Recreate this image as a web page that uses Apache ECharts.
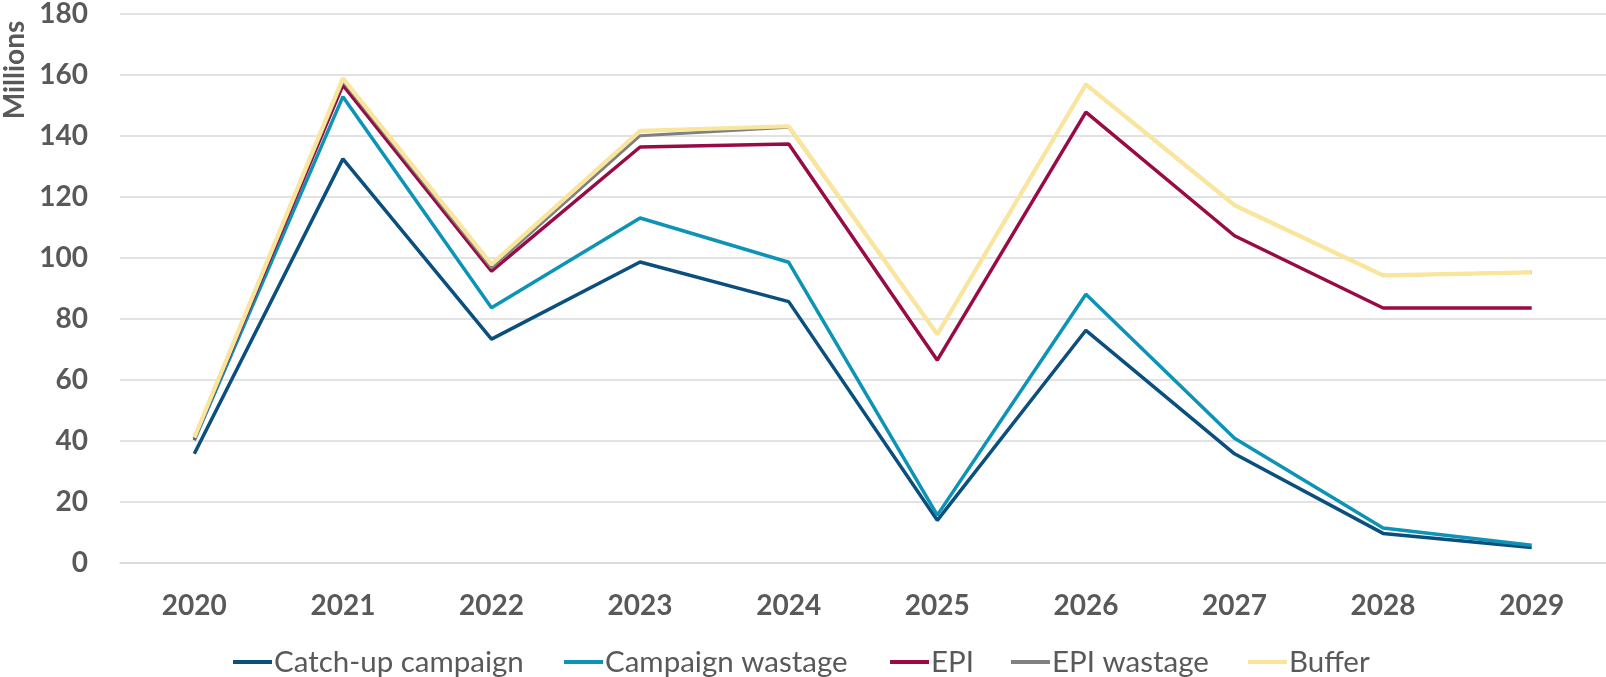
<!DOCTYPE html>
<html>
<head>
<meta charset="utf-8">
<script src="https://cdn.jsdelivr.net/npm/echarts@6/dist/echarts.min.js"></script>
<style>
  html, body { margin: 0; padding: 0; background: #ffffff; }
  #chart { width: 1606px; height: 677px; }
</style>
</head>
<body>
<div id="chart"></div>
<script>
// Vaccine dose requirements by year (millions)
const years = ['2020', '2021', '2022', '2023', '2024', '2025', '2026', '2027', '2028', '2029'];
const catchUpCampaign  = [35.8, 132.5, 73.4,  98.7,  85.7, 14.0,  76.3,  35.8,  9.7,  5.1];
const campaignWastage  = [40.2, 152.9, 83.7, 113.1,  98.6, 15.7,  88.1,  40.9, 11.5,  5.8];
const epi              = [40.8, 156.7, 95.7, 136.4, 137.4, 66.5, 147.8, 107.3, 83.6, 83.6];
const epiWastage       = [41.0, 158.0, 96.8, 140.1, 142.9, 75.0, 156.9, 117.3, 94.3, 95.3];
const buffer           = [41.1, 158.9, 97.9, 141.7, 143.2, 75.0, 156.9, 117.3, 94.3, 95.3];
const seriesNames = ['Catch-up campaign', 'Campaign wastage', 'EPI', 'EPI wastage', 'Buffer'];
const seriesColors = ['#0b4f7e', '#0d93b5', '#990b45', '#808080', '#f9e59c'];
const yTicks = { min: 0, max: 180, step: 20 };
const yAxisTitle = 'Millions';

const FONT = 'Lato, Roboto, sans-serif';
const TEXT = '#595959';
const GRID = '#d9d9d9';

// left edge of each legend entry along the bottom row
const legendLeft = [233, 564, 890, 1011, 1248];

function lineSeries(i, data, width) {
  return {
    name: seriesNames[i],
    type: 'line',
    data: data,
    symbol: 'none',
    lineStyle: { color: seriesColors[i], width: width },
    itemStyle: { color: seriesColors[i] },
    emphasis: { disabled: true },
    animation: false
  };
}

const legends = seriesNames.map((name, i) => ({
  bottom: 0,
  left: legendLeft[i],
  padding: 0,
  itemWidth: 39,
  itemHeight: 4,
  icon: 'rect',
  textStyle: { color: TEXT, fontFamily: FONT, fontSize: 29.5, padding: [0, 0, 0, -3] },
  data: [name]
}));

const chart = echarts.init(document.getElementById('chart'), null, { renderer: 'canvas' });
chart.setOption({
  backgroundColor: '#ffffff',
  animation: false,
  grid: { left: 120, right: 0, top: 12, bottom: 114, containLabel: false },
  xAxis: {
    type: 'category',
    data: years,
    boundaryGap: true,
    axisTick: { show: false },
    axisLine: { lineStyle: { color: GRID, width: 1.5 } },
    axisLabel: { color: TEXT, fontFamily: FONT, fontWeight: 'bold', fontSize: 28, margin: 29 }
  },
  yAxis: {
    type: 'value',
    min: yTicks.min,
    max: yTicks.max,
    interval: yTicks.step,
    axisLine: { show: false },
    axisTick: { show: false },
    splitLine: { lineStyle: { color: GRID, width: 1.5 } },
    axisLabel: { color: TEXT, fontFamily: FONT, fontWeight: 'bold', fontSize: 28, margin: 32 }
  },
  legend: legends,
  graphic: [{
    type: 'text',
    x: 15,
    y: 70,
    rotation: Math.PI / 2,
    style: {
      text: yAxisTitle,
      fill: TEXT,
      font: 'bold 28px ' + FONT,
      textAlign: 'center',
      textVerticalAlign: 'middle'
    }
  }],
  series: [
    lineSeries(0, catchUpCampaign, 3.5),
    lineSeries(1, campaignWastage, 3.5),
    lineSeries(2, epi, 3.5),
    lineSeries(3, epiWastage, 3.0),
    lineSeries(4, buffer, 4.2)
  ]
});
</script>
</body>
</html>
